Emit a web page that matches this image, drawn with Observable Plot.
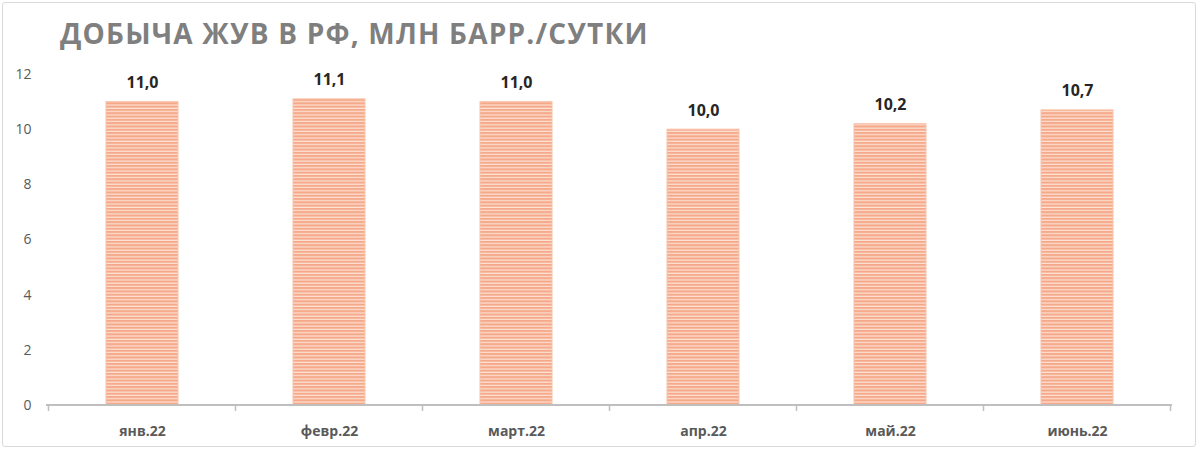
<!DOCTYPE html>
<html>
<head>
<meta charset="utf-8">
<script src="https://cdn.jsdelivr.net/npm/d3@7"></script>
<script src="https://cdn.jsdelivr.net/npm/@observablehq/plot@0.6"></script>
<style>
  html, body { margin: 0; padding: 0; background: #fff; }
  #wrap { position: relative; width: 1200px; height: 451px; overflow: hidden; font-family: "Open Sans", sans-serif; }
  #frame { position: absolute; left: 2px; top: 2px; width: 1194px; height: 445px; border: 1px solid #d9d9d9; border-radius: 3px; box-sizing: border-box; }
  #title { position: absolute; left: 60px; top: 14px; font-size: 28px; font-weight: 700; color: #7f7f7f; letter-spacing: 1.2px; white-space: nowrap; }
  #chart { position: absolute; left: 0; top: 0; }
</style>
</head>
<body>
<div id="wrap">
  <div id="frame"></div>
  <div id="chart"></div>
  <div id="title">ДОБЫЧА ЖУВ В РФ, МЛН БАРР./СУТКИ</div>
</div>
<script>
const months = ["янв.22", "февр.22", "март.22", "апр.22", "май.22", "июнь.22"];
const values = [11.0, 11.1, 11.0, 10.0, 10.2, 10.7];
const yTicks = [0, 2, 4, 6, 8, 10, 12];

const data = months.map((m, i) => ({month: m, value: values[i]}));
const fmt = v => v.toFixed(1).replace(".", ",");

const defs = () => {
  const d = d3.create("svg:defs");
  const p = d.append("pattern").attr("id", "stripes").attr("patternUnits", "userSpaceOnUse")
    .attr("width", 8).attr("height", 3.3);
  p.append("rect").attr("width", 8).attr("height", 3.3).attr("fill", "#fde2d4");
  p.append("rect").attr("width", 8).attr("height", 2.1).attr("fill", "#f5a98a");
  return d.node();
};

const boundaryTicks = (index, scales, values, dims) => {
  const x = scales.x;
  const starts = months.map(m => x(m));
  const bw = x.bandwidth ? x.bandwidth() : 0;
  const step = starts.length > 1 ? starts[1] - starts[0] : bw;
  const gap = (step - bw) / 2;
  const pos = starts.map(s => s - gap);
  pos.push(starts[starts.length - 1] + bw + gap);
  const y0 = scales.y(0);
  const g = d3.create("svg:g").attr("stroke", "#bfbfbf").attr("stroke-width", 1.5);
  g.append("line").attr("x1", dims.marginLeft).attr("x2", dims.width - dims.marginRight)
    .attr("y1", y0).attr("y2", y0).attr("stroke-width", 2);
  pos.forEach(p => g.append("line").attr("x1", p).attr("x2", p).attr("y1", y0).attr("y2", y0 + 6));
  return g.node();
};

const plot = Plot.plot({
  width: 1200,
  height: 451,
  marginTop: 74,
  marginBottom: 46,
  marginLeft: 46,
  marginRight: 28,
  style: {fontFamily: "Open Sans, sans-serif", background: "transparent"},
  x: {domain: months, paddingInner: 0.616, paddingOuter: 0.308, label: null},
  y: {domain: [0, 12], label: null},
  marks: [
    defs,
    Plot.axisY({ticks: yTicks, tickSize: 0, tickPadding: 15, fontSize: 14, color: "#595959", label: null, tickFormat: d => d}),
    Plot.axisX({tickSize: 0, tickPadding: 21, fontSize: 14, fontWeight: 700, color: "#595959", label: null}),
    Plot.barY(data, {x: "month", y: "value", fill: "url(#stripes)", stroke: "#f8c4ab", strokeWidth: 1}),
    boundaryTicks,
    Plot.text(data, {x: "month", y: "value", text: d => fmt(d.value), dy: -19, fontSize: 16, fontWeight: 700, fill: "#262626"})
  ]
});
document.getElementById("chart").appendChild(plot);
</script>
</body>
</html>
